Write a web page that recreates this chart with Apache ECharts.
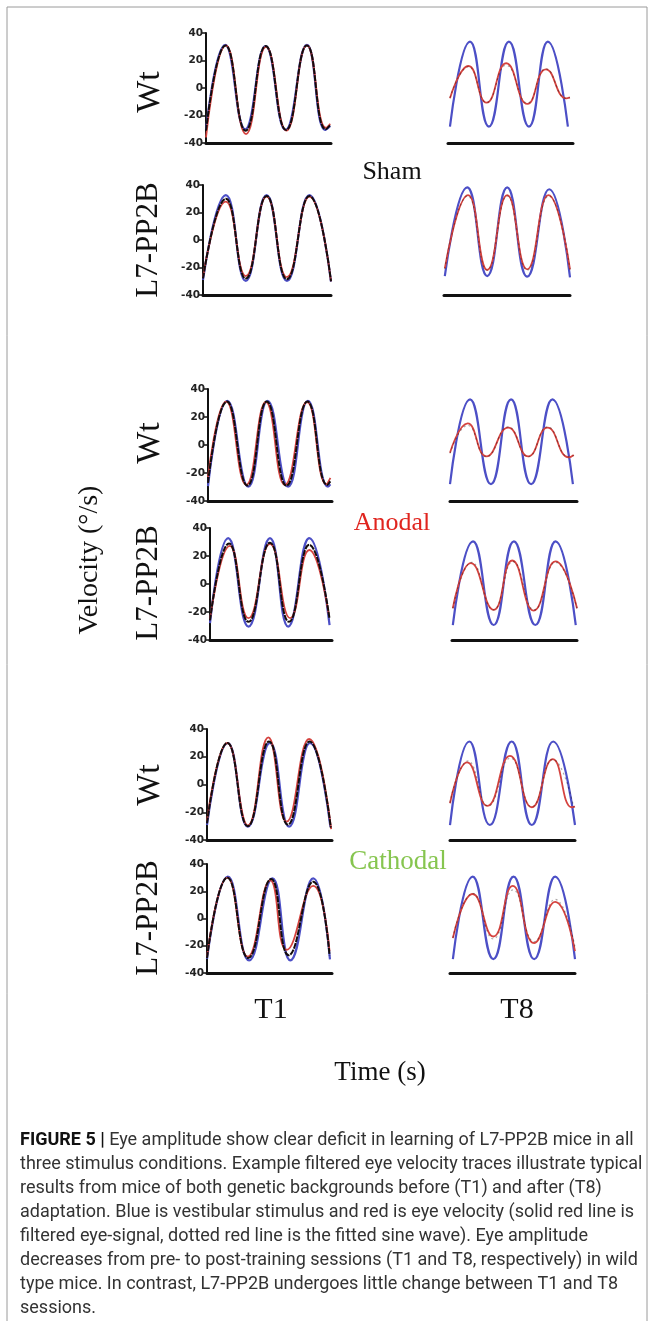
<!DOCTYPE html>
<html lang="en">
<head>
<meta charset="UTF-8">
<script src="https://cdn.jsdelivr.net/npm/echarts@6/dist/echarts.min.js"></script>
<style>
  html, body { margin: 0; padding: 0; background: #fff; }
  #main { width: 654px; height: 1321px; }
</style>
</head>
<body>
<div id="main"></div>
<script>
// extrema of each trace: [time (cycles), velocity (deg/s)]
// --- Sham ---
var shamWtT1Blue = [[0,-30.5],[0.47,31.3],[0.96,-30],[1.46,30.5],[1.95,-30.5],[2.47,31.3],[2.92,-30.5],[3.04,-27.6]];
var shamWtT1Red  = [[0,-36],[0.49,31],[0.98,-33.5],[1.47,30],[1.97,-31],[2.47,31],[2.94,-29],[3.04,-26]];
var shamWtT1Fit  = [[0,-31],[0.48,31],[0.97,-31],[1.46,30.5],[1.96,-30.5],[2.47,31],[2.93,-30],[3.04,-27]];

var shamL7T1Blue = [[0,-29],[0.55,32.7],[1.03,-29.8],[1.53,32.7],[2.02,-29.8],[2.56,32.7],[3.08,-30.3]];
var shamL7T1Red  = [[0,-27],[0.55,27.9],[1.03,-26.2],[1.53,31.6],[2.02,-27],[2.56,31.6],[3.08,-30]];
var shamL7T1Fit  = [[0,-28],[0.55,30],[1.03,-28],[1.53,32],[2.02,-28.5],[2.56,32],[3.08,-30]];

var shamWtT8Blue = [[0.05,-28.1],[0.56,33.7],[1.04,-28.1],[1.55,33.7],[2.06,-28.1],[2.54,33.7],[3.05,-28.1]];
var shamWtT8Red  = [[0.05,-7.5],[0.52,16],[0.98,-10.7],[1.48,18],[2.02,-11.6],[2.49,13.6],[3.01,-7.5],[3.1,-6.8]];
var shamWtT8Fit  = [[0.05,-7],[0.52,15.5],[0.98,-10.5],[1.48,16.5],[2.02,-11],[2.49,14],[3.01,-7.5],[3.1,-7]];

var shamL7T8Blue = [[0.02,-26.2],[0.57,38.3],[1.06,-26.2],[1.55,38.3],[2.04,-26.7],[2.58,36.9],[3.09,-27.1]];
var shamL7T8Red  = [[0.02,-20.6],[0.59,32.7],[1.06,-21.8],[1.55,32.7],[2.04,-21.3],[2.56,32.7],[3.09,-21.3]];
var shamL7T8Fit  = [[0.02,-21],[0.58,32],[1.06,-22],[1.55,32],[2.04,-22],[2.57,32],[3.09,-21.5]];

// --- Anodal ---
var anoWtT1Blue = [[0,-29.3],[0.48,31.6],[1.0,-29.8],[1.48,31.6],[1.99,-29.8],[2.48,31.6],[2.98,-29.8],[3.04,-28]];
var anoWtT1Red  = [[0,-23],[0.45,31],[0.95,-28.5],[1.44,30.7],[1.91,-28.5],[2.46,30.7],[2.94,-28],[3.04,-23.5]];
var anoWtT1Fit  = [[0,-27],[0.47,31],[0.98,-29],[1.46,31],[1.95,-29],[2.47,31],[2.96,-28.5],[3.04,-26]];

var anoL7T1Blue = [[0,-28],[0.45,32.8],[0.95,-30.4],[1.48,32.8],[1.93,-30.4],[2.45,32.8],[2.95,-29.3]];
var anoL7T1Red  = [[0,-25],[0.49,27.2],[0.95,-24.4],[1.48,28.6],[1.98,-24.4],[2.45,24.3],[2.93,-21.5]];
var anoL7T1Fit  = [[0,-26],[0.47,29],[0.95,-27],[1.48,29.5],[1.95,-27],[2.45,28],[2.95,-25]];

var anoWtT8Blue = [[0,-28],[0.49,32.6],[1.0,-28],[1.49,32.6],[1.98,-28],[2.5,32.6],[3.0,-28]];
var anoWtT8Red  = [[0,-5.5],[0.43,15.5],[0.89,-8.1],[1.42,12.4],[1.91,-8.1],[2.38,12.4],[2.9,-8.8],[3.02,-7.1]];
var anoWtT8Fit  = [[0,-6],[0.43,14],[0.89,-8.5],[1.42,13],[1.91,-8.5],[2.38,13],[2.9,-8.5],[3.02,-7.5]];

var anoL7T8Blue = [[0.02,-29.3],[0.51,30.4],[1.01,-29.3],[1.5,30.4],[2.02,-29.3],[2.51,30.4],[3.0,-29.3]];
var anoL7T8Red  = [[0.02,-17.3],[0.46,14.9],[1.01,-18.5],[1.46,16.8],[1.98,-19],[2.51,16.1],[3.03,-17.3]];
var anoL7T8Fit  = [[0.02,-17.5],[0.48,15.5],[1.0,-18.5],[1.48,16],[1.99,-18.5],[2.51,15.5],[3.03,-17.5]];

// --- Cathodal ---
var catWtT1Blue = [[0,-29.2],[0.51,29.9],[1.0,-30.4],[1.54,29.9],[2.01,-30.4],[2.52,29.9],[3.02,-30.4]];
var catWtT1Red  = [[0,-26],[0.5,29.9],[1.0,-29.5],[1.5,34],[1.95,-26.8],[2.5,32.8],[3.04,-32.2]];
var catWtT1Fit  = [[0,-28],[0.5,30],[1.0,-30],[1.52,31],[1.98,-29],[2.51,31],[3.03,-31]];

var catL7T1Blue = [[0,-29.7],[0.51,30.7],[1.03,-30.7],[1.6,29.5],[2.04,-30.7],[2.6,29.5],[3.01,-30]];
var catL7T1Red  = [[0,-28],[0.5,30],[1.0,-28],[1.55,28],[1.95,-23],[2.6,23.9],[3.0,-24]];
var catL7T1Fit  = [[0,-29],[0.5,30],[1.01,-29],[1.57,29],[2.0,-27],[2.6,27],[3.0,-27]];

var catWtT8Blue = [[0,-29.2],[0.46,31],[0.95,-29.2],[1.47,31],[1.95,-29.2],[2.46,31],[2.98,-29.2]];
var catWtT8Red  = [[0,-13.5],[0.41,15.9],[0.89,-15.4],[1.43,20.7],[1.95,-16.4],[2.45,18.3],[2.9,-16.4],[2.98,-16]];
var catWtT8Fit  = [[0,-13],[0.43,17],[0.91,-15.5],[1.44,19],[1.95,-16],[2.45,18],[2.95,-16.5]];

var catL7T8Blue = [[0.07,-29.8],[0.55,30.7],[1.05,-29.8],[1.54,30.7],[2.04,-29.8],[2.55,30.7],[3.03,-29.8]];
var catL7T8Red  = [[0.07,-14.4],[0.55,18],[1.05,-13.2],[1.52,23.9],[2.04,-18],[2.55,12.2],[3.03,-24]];
var catL7T8Fit  = [[0.07,-14],[0.55,18.5],[1.05,-15],[1.53,21],[2.04,-17],[2.55,14],[3.03,-21]];

var yTicks = [-40, -20, 0, 20, 40];

var captionLines = [
    'Eye amplitude show clear deficit in learning of L7-PP2B mice in all',
    'three stimulus conditions. Example filtered eye velocity traces illustrate typical',
    'results from mice of both genetic backgrounds before (T1) and after (T8)',
    'adaptation. Blue is vestibular stimulus and red is eye velocity (solid red line is',
    'filtered eye-signal, dotted red line is the fitted sine wave). Eye amplitude',
    'decreases from pre- to post-training sessions (T1 and T8, respectively) in wild',
    'type mice. In contrast, L7-PP2B undergoes little change between T1 and T8',
    'sessions.'
];

var BLUE = '#4c4fc6', RED = '#d5433f', DARK = '#140c0c';

// panel layout (pixels)
var panels = [
    {left: 206, top: 33,  width: 125, height: 110, xMax: 3.06, axis: true,  d: [shamWtT1Blue, shamWtT1Red, shamWtT1Fit]},
    {left: 203, top: 185, width: 128, height: 110, xMax: 3.08, axis: true,  d: [shamL7T1Blue, shamL7T1Red, shamL7T1Fit]},
    {left: 448, top: 33,  width: 125, height: 110, xMax: 3.18, axis: false, d: [shamWtT8Blue, shamWtT8Red, shamWtT8Fit]},
    {left: 444, top: 185, width: 126, height: 110, xMax: 3.09, axis: false, d: [shamL7T8Blue, shamL7T8Red, shamL7T8Fit]},
    {left: 208, top: 389, width: 124, height: 112, xMax: 3.08, axis: true,  d: [anoWtT1Blue, anoWtT1Red, anoWtT1Fit]},
    {left: 210, top: 528, width: 122, height: 112, xMax: 3.01, axis: true,  d: [anoL7T1Blue, anoL7T1Red, anoL7T1Fit]},
    {left: 450, top: 389, width: 127, height: 112, xMax: 3.1,  axis: false, d: [anoWtT8Blue, anoWtT8Red, anoWtT8Fit]},
    {left: 452, top: 528, width: 125, height: 112, xMax: 3.03, axis: false, d: [anoL7T8Blue, anoL7T8Red, anoL7T8Fit]},
    {left: 207, top: 729, width: 125, height: 111, xMax: 3.06, axis: true,  d: [catWtT1Blue, catWtT1Red, catWtT1Fit]},
    {left: 207, top: 864, width: 125, height: 109, xMax: 3.06, axis: true,  d: [catL7T1Blue, catL7T1Red, catL7T1Fit]},
    {left: 450, top: 729, width: 125, height: 111, xMax: 2.98, axis: false, d: [catWtT8Blue, catWtT8Red, catWtT8Fit]},
    {left: 450, top: 864, width: 125, height: 109, xMax: 3.03, axis: false, d: [catL7T8Blue, catL7T8Red, catL7T8Fit]}
];

var chart = echarts.init(document.getElementById('main'));

var grids = [], xAxes = [], yAxes = [], series = [];
panels.forEach(function (p, i) {
    grids.push({left: p.left, top: p.top, width: p.width, height: p.height});
    xAxes.push({
        type: 'value', gridIndex: i, min: 0, max: p.xMax,
        axisLine: {show: true, onZero: false, lineStyle: {color: '#111', width: 3}},
        axisTick: {show: false}, axisLabel: {show: false}, splitLine: {show: false}
    });
    yAxes.push({
        type: 'value', gridIndex: i, min: yTicks[0], max: yTicks[yTicks.length - 1], interval: 20,
        show: p.axis,
        axisLine: {show: true, lineStyle: {color: '#111', width: 2}},
        axisTick: {show: true, length: 4, lineStyle: {color: '#111', width: 1.5}},
        axisLabel: {fontFamily: 'DejaVu Sans', fontWeight: 'bold', fontSize: 10.5, color: '#222', margin: 3},
        splitLine: {show: false}
    });
    var t1 = p.axis;
    series.push({
        type: 'line', xAxisIndex: i, yAxisIndex: i, data: p.d[0], smooth: 0.5,
        symbol: 'none', silent: true, lineStyle: {color: BLUE, width: 2.2}
    });
    series.push({
        type: 'line', xAxisIndex: i, yAxisIndex: i, data: p.d[1], smooth: 0.5,
        symbol: 'none', silent: true, lineStyle: {color: RED, width: 1.8}
    });
    series.push({
        type: 'line', xAxisIndex: i, yAxisIndex: i, data: p.d[2], smooth: 0.5,
        symbol: 'none', silent: true,
        lineStyle: t1 ? {color: DARK, width: 2, type: [6, 1]} : {color: DARK, width: 1.2, type: [2, 3], opacity: 0.35}
    });
});

function label(text, x, y, size, color, rot) {
    return {
        type: 'text', x: x, y: y, rotation: rot ? Math.PI / 2 : 0,
        style: {
            text: text, fill: color || '#111', font: size + 'px "Liberation Serif"',
            align: 'center', verticalAlign: 'middle'
        }
    };
}

var graphics = [
    {type: 'rect', shape: {x: 7, y: 7, width: 640, height: 1330}, style: {fill: 'none', stroke: '#9a9a9a', lineWidth: 1}},
    label('Wt', 150, 92, 34, null, true),
    label('L7-PP2B', 149, 240, 31, null, true),
    label('Wt', 150, 443, 34, null, true),
    label('L7-PP2B', 149, 583, 31, null, true),
    label('Wt', 150, 785, 34, null, true),
    label('L7-PP2B', 149, 918, 31, null, true),
    label('Velocity (°/s)', 90, 560, 28, null, true),
    label('Sham', 392, 172, 26, '#111'),
    label('Anodal', 392, 523, 26, '#e0251f'),
    label('Cathodal', 398, 862, 27, '#86c54f'),
    label('T1', 271, 1010, 30),
    label('T8', 517, 1010, 30),
    label('Time (s)', 380, 1073, 27)
];

captionLines.forEach(function (line, i) {
    graphics.push({
        type: 'text', x: 20, y: 1140 + i * 24,
        style: {
            text: i === 0 ? '{b|FIGURE 5 |} ' + line : line,
            font: '18px Roboto', fill: '#333', verticalAlign: 'middle', align: 'left',
            rich: {b: {font: 'bold 18px Roboto', fill: '#111'}}
        }
    });
});

chart.setOption({
    backgroundColor: '#fff',
    animation: false,
    grid: grids,
    xAxis: xAxes,
    yAxis: yAxes,
    series: series,
    graphic: graphics
});
</script>
</body>
</html>
